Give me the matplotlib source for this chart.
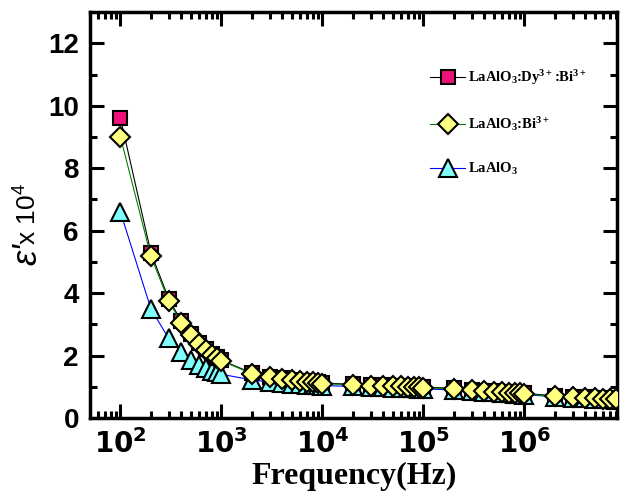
import numpy as np
import matplotlib
matplotlib.use("Agg")
import matplotlib.pyplot as plt
from matplotlib.ticker import LogLocator, MultipleLocator, NullFormatter

plt.rcParams['mathtext.default'] = 'regular'

# dados (epsilon' x 10^4)
freq = [100, 200, 300, 400, 500, 600, 700, 800, 900, 1000,
        2e3, 3e3, 4e3, 5e3, 6e3, 7e3, 8e3, 9e3, 1e4,
        2e4, 3e4, 4e4, 5e4, 6e4, 7e4, 8e4, 9e4, 1e5,
        2e5, 3e5, 4e5, 5e5, 6e5, 7e5, 8e5, 9e5, 1e6,
        2e6, 3e6, 4e6, 5e6, 6e6, 7e6, 8e6]

eps_dy_bi = [9.6, 5.3, 3.82, 3.1, 2.7, 2.4, 2.2, 2.05, 1.95, 1.85,
             1.44, 1.32, 1.27, 1.23, 1.20, 1.18, 1.16, 1.14, 1.12,
             1.08, 1.06, 1.05, 1.04, 1.03, 1.02, 1.01, 1.00, 0.99,
             0.95, 0.91, 0.88, 0.86, 0.84, 0.83, 0.82, 0.81, 0.79,
             0.71, 0.68, 0.66, 0.65, 0.64, 0.63, 0.62]

eps_bi = [9.0, 5.18, 3.75, 3.05, 2.65, 2.37, 2.18, 2.03, 1.93, 1.83,
          1.42, 1.30, 1.25, 1.21, 1.18, 1.16, 1.14, 1.12, 1.10,
          1.06, 1.04, 1.03, 1.02, 1.01, 1.00, 0.99, 0.98, 0.97,
          0.93, 0.89, 0.86, 0.84, 0.82, 0.81, 0.80, 0.79, 0.77,
          0.69, 0.66, 0.64, 0.63, 0.62, 0.61, 0.60]

eps_pure = [6.6, 3.5, 2.55, 2.12, 1.85, 1.70, 1.60, 1.52, 1.46, 1.40,
            1.22, 1.15, 1.12, 1.10, 1.08, 1.07, 1.06, 1.05, 1.04,
            1.01, 0.99, 0.98, 0.97, 0.96, 0.95, 0.95, 0.94, 0.93,
            0.90, 0.87, 0.84, 0.82, 0.80, 0.79, 0.78, 0.77, 0.75,
            0.68, 0.65, 0.63, 0.62, 0.61, 0.60, 0.58]

fig = plt.figure(figsize=(6.21, 5.03), dpi=100)
ax = fig.add_axes([0.145, 0.169, 0.849, 0.807])

ax.plot(freq, eps_dy_bi, color='black', lw=0.8, marker='s', ms=10,
        mfc='#F0107A', mec='black', mew=1.5, label=r'LaAlO$_3$:Dy$^{3+}$:Bi$^{3+}$')
ax.plot(freq, eps_pure, color='blue', lw=0.8, marker='^', ms=13,
        mfc='#80FFFF', mec='black', mew=1.5, label=r'LaAlO$_3$', zorder=3)
ax.plot(freq, eps_bi, color='green', lw=0.8, marker='D', ms=10,
        mfc='#FFFF80', mec='black', mew=1.5, label=r'LaAlO$_3$:Bi$^{3+}$', zorder=4)

ax.set_xscale('log')
ax.xaxis.set_minor_locator(LogLocator(base=10, subs=np.arange(2, 10), numticks=100))
ax.xaxis.set_minor_formatter(NullFormatter())
ax.set_xticks([1e2, 1e3, 1e4, 1e5, 1e6, 1e7])
ax.set_xticklabels([r'$\mathbf{10^{%d}}$' % k for k in range(2, 8)])
ax.set_xlim(50, 8.3e6)
ax.set_ylim(0, 13)
ax.yaxis.set_major_locator(MultipleLocator(2))
ax.yaxis.set_minor_locator(MultipleLocator(1))

ax.tick_params(which='both', direction='in', top=True, right=True, width=2.2)
ax.tick_params(which='major', length=10)
ax.tick_params(which='minor', length=5)
ax.tick_params(axis='both', labelsize=20, pad=8)
for lab in ax.get_yticklabels() + ax.get_xticklabels():
    lab.set_family('Liberation Sans')
    lab.set_fontweight('bold')
for s in ax.spines.values():
    s.set_linewidth(2.5)

ax.set_xlabel('Frequency(Hz)', family='Liberation Serif', fontweight='bold', fontsize=23, labelpad=2)

# rótulo do eixo y em duas partes (epsilon maior, em itálico)
fig.text(27 / 621, 1 - 254 / 503, "\u03b5'", rotation=90, ha='center', va='center',
         family='Liberation Sans', style='italic', fontsize=25)
fig.text(28 / 621, 1 - 214 / 503, "x 10$^4$", rotation=90, ha='center', va='center',
         family='Liberation Sans', fontsize=19)

h, l = ax.get_legend_handles_labels()
order = [0, 2, 1]
ax.legend([h[i] for i in order], [l[i] for i in order], loc='upper left',
          bbox_to_anchor=(423 / 621, 1 - 61 / 503), bbox_transform=fig.transFigure,
          frameon=False, handlelength=2.4, handletextpad=0.2, labelspacing=1.9,
          borderpad=0, prop={'family': 'Liberation Serif', 'weight': 'bold', 'size': 10.5})

fig.savefig('out.png', dpi=100)
